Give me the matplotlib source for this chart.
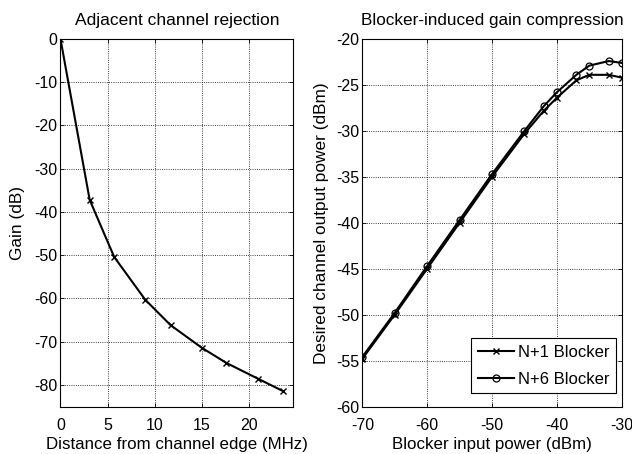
import numpy as np
import matplotlib
matplotlib.use("Agg")
import matplotlib.pyplot as plt

plt.rcParams['font.family'] = ['Liberation Sans', 'DejaVu Sans']
plt.rcParams['font.size'] = 11.5
plt.rcParams['axes.unicode_minus'] = False

# Adjacent channel rejection
dist_mhz = [0, 3.1, 5.7, 9.0, 11.7, 15.0, 17.6, 21.0, 23.6]
gain_db = [0, -37.2, -50.4, -60.3, -66.2, -71.4, -74.9, -78.6, -81.4]

# Blocker-induced gain compression
blk_in = [-70, -65, -60, -55, -50, -45, -42, -40, -37, -35, -32, -30]
out_n1 = [-54.8, -50.0, -45.0, -40.0, -35.0, -30.3, -27.8, -26.4, -24.5, -23.9, -23.9, -24.2]
out_n6 = [-54.6, -49.8, -44.7, -39.7, -34.7, -30.0, -27.3, -25.8, -23.9, -22.9, -22.4, -22.6]

fig = plt.figure(figsize=(6.32, 4.54), dpi=100)
ax1 = fig.add_axes([0.0957, 0.1046, 0.368, 0.8095])
ax2 = fig.add_axes([0.5733, 0.1046, 0.4104, 0.8095])

def matlab_style(ax):
    ax.grid(True, linestyle=':', color='k', linewidth=0.6)
    ax.tick_params(direction='in', top=True, right=True, length=3, width=0.6, labelsize=11.5)
    ax.tick_params(axis='x', pad=8)
    ax.tick_params(axis='y', pad=2)
    for s in ax.spines.values():
        s.set_linewidth(0.8)

ax1.plot(dist_mhz, gain_db, color='k', lw=1.5, marker='x', ms=4, mew=1)
ax1.set_xlim(0, 24.7)
ax1.set_ylim(-85, 0)
ax1.set_xticks([0, 5, 10, 15, 20])
ax1.set_yticks(np.arange(-80, 1, 10))
ax1.set_xlabel('Distance from channel edge (MHz)', fontsize=12.2, labelpad=3)
ax1.set_ylabel('Gain (dB)', fontsize=12.4, labelpad=7)
ax1.set_title('Adjacent channel rejection', fontsize=12.5, pad=10)
matlab_style(ax1)

ax2.plot(blk_in, out_n1, color='k', lw=1.5, marker='x', ms=4, mew=1, label='N+1 Blocker')
ax2.plot(blk_in, out_n6, color='k', lw=1.5, marker='o', ms=5, mfc='none', mew=0.9, label='N+6 Blocker')
ax2.set_xlim(-70, -30)
ax2.set_ylim(-60, -20)
ax2.set_xticks(np.arange(-70, -29, 10))
ax2.set_yticks(np.arange(-60, -19, 5))
ax2.set_xlabel('Blocker input power (dBm)', fontsize=12.2, labelpad=3)
ax2.set_ylabel('Desired channel output power (dBm)', fontsize=12.4, labelpad=5)
ax2.set_title('Blocker-induced gain compression', fontsize=12.3, pad=10)
matlab_style(ax2)
leg = ax2.legend(loc='lower right', bbox_to_anchor=(615.7 / 632, (454 - 393.3) / 454),
                 bbox_transform=fig.transFigure, borderaxespad=0,
                 fancybox=False, edgecolor='k', framealpha=1,
                 handlelength=2.2, handletextpad=0.2, labelspacing=0.7, fontsize=12)
leg.get_frame().set_linewidth(0.8)

fig.savefig('out.png', dpi=100)
